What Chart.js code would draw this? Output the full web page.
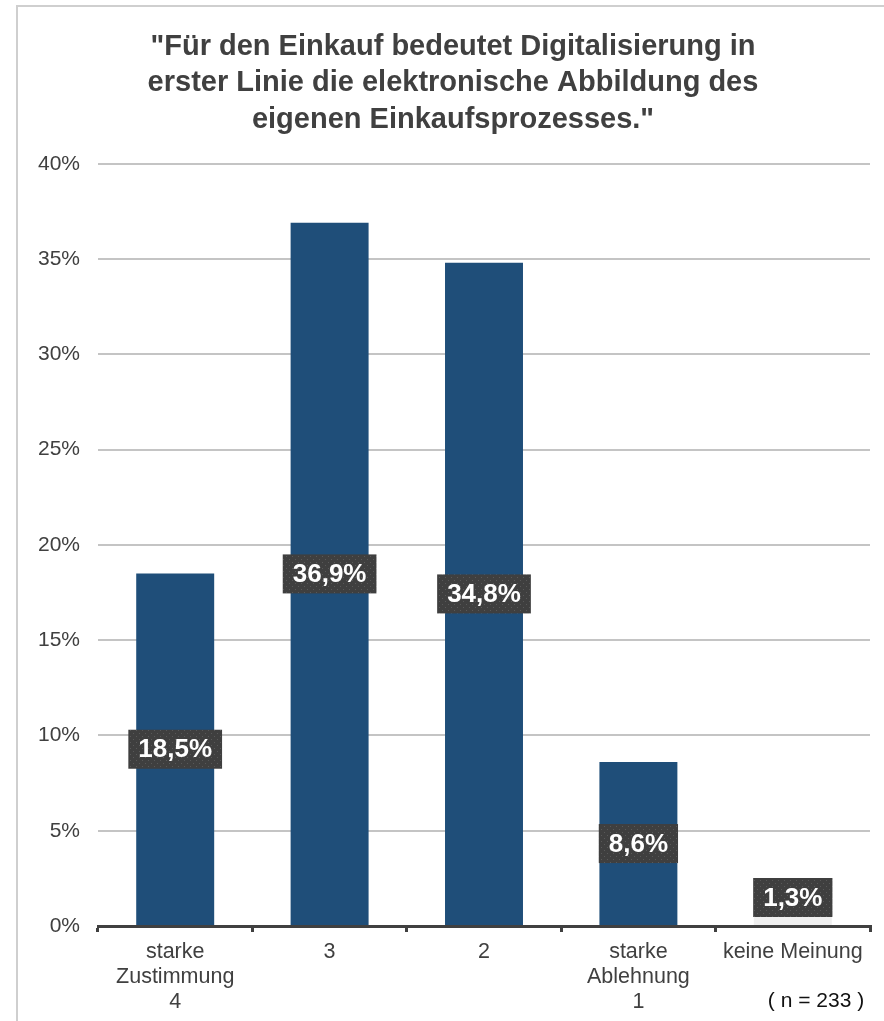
<!DOCTYPE html>
<html>
<head>
<meta charset="utf-8">
<script src="https://cdn.jsdelivr.net/npm/chart.js@4"></script>
<style>
    html, body { margin: 0; padding: 0; background: #fff; }
    #wrap { position: relative; width: 884px; height: 1021px; }
    #frame {
        position: absolute; left: 16px; top: 5px; right: 0; bottom: 0;
        border-top: 2px solid #cfcfcf; border-left: 2px solid #cfcfcf;
    }
    #chart { position: absolute; left: 0; top: 0; }
</style>
</head>
<body>
<div id="wrap">
    <div id="frame"></div>
    <canvas id="chart" width="884" height="1021"></canvas>
</div>
<script>
const titleLines = [
    '"Für den Einkauf bedeutet Digitalisierung in',
    'erster Linie die elektronische Abbildung des',
    'eigenen Einkaufsprozesses."'
];
const categories = [
    ['starke', 'Zustimmung', '4'],
    '3',
    '2',
    ['starke', 'Ablehnung', '1'],
    'keine Meinung'
];
const shares = [18.5, 36.9, 34.8, 8.6, 1.3];
const barColors = ['#1F4E79', '#1F4E79', '#1F4E79', '#1F4E79', '#EFEFEF'];
const yTicks = [0, 5, 10, 15, 20, 25, 30, 35, 40];
const sampleNote = '( n = 233 )';

const textColor = '#404040';
const fontFamily = '"Liberation Sans", Arial, sans-serif';

// dotted dark background for the value boxes
function makeDots() {
    const c = document.createElement('canvas');
    c.width = 6; c.height = 6;
    const g = c.getContext('2d');
    g.fillStyle = '#3f3f3f';
    g.fillRect(0, 0, 6, 6);
    g.fillStyle = '#595959';
    g.fillRect(1, 1, 1, 1);
    g.fillRect(4, 4, 1, 1);
    return g.createPattern(c, 'repeat');
}

const valueBoxes = {
    id: 'valueBoxes',
    afterDatasetsDraw(chart) {
        const ctx = chart.ctx;
        const pattern = makeDots();
        const meta = chart.getDatasetMeta(0);
        ctx.save();
        ctx.font = 'bold 26px ' + fontFamily;
        ctx.textAlign = 'center';
        ctx.textBaseline = 'middle';
        meta.data.forEach((bar, i) => {
            const txt = shares[i].toFixed(1).replace('.', ',') + '%';
            const w = ctx.measureText(txt).width + 20;
            const h = 39;
            let cy = (bar.y + bar.base) / 2;
            if (cy + h / 2 > bar.base - 8) cy = bar.base - 8 - h / 2;
            ctx.fillStyle = pattern;
            ctx.fillRect(bar.x - w / 2, cy - h / 2, w, h);
            ctx.fillStyle = '#ffffff';
            ctx.fillText(txt, bar.x, cy + 1);
        });
        ctx.restore();
    }
};

const noteText = {
    id: 'noteText',
    afterDraw(chart) {
        const ctx = chart.ctx;
        ctx.save();
        ctx.font = '21px ' + fontFamily;
        ctx.fillStyle = '#111';
        ctx.textAlign = 'center';
        ctx.textBaseline = 'middle';
        ctx.fillText(sampleNote, 816, 1001);
        ctx.restore();
    }
};

new Chart(document.getElementById('chart'), {
    type: 'bar',
    data: {
        labels: categories,
        datasets: [{
            data: shares,
            backgroundColor: barColors,
            borderWidth: 0,
            barPercentage: 0.505,
            categoryPercentage: 1
        }]
    },
    options: {
        responsive: false,
        animation: false,
        layout: { padding: { left: 36, right: 14, top: 0, bottom: 0 } },
        plugins: {
            legend: { display: false },
            tooltip: { enabled: false },
            title: {
                display: true,
                text: titleLines,
                color: textColor,
                font: { family: fontFamily, size: 29, weight: 'bold', lineHeight: 1.25 },
                padding: { top: 29, bottom: 26 }
            }
        },
        scales: {
            y: {
                min: 0,
                max: 40,
                afterFit(scale) { scale.width = 62; },
                afterBuildTicks(scale) { scale.ticks = yTicks.map(v => ({ value: v })); },
                border: { display: false },
                grid: { color: '#c4c4c4', lineWidth: 2, drawTicks: false },
                ticks: {
                    padding: 18,
                    color: textColor,
                    font: { family: fontFamily, size: 21 },
                    callback: v => v + '%'
                }
            },
            x: {
                afterFit(scale) { scale.height = 95; },
                border: { color: '#404040', width: 3 },
                grid: { drawOnChartArea: false, drawTicks: true, tickLength: 6, color: '#404040', lineWidth: 3 },
                ticks: {
                    padding: 8,
                    color: textColor,
                    maxRotation: 0,
                    autoSkip: false,
                    font: { family: fontFamily, size: 21.5, lineHeight: 1.15 }
                }
            }
        }
    },
    plugins: [valueBoxes, noteText]
});
</script>
</body>
</html>
